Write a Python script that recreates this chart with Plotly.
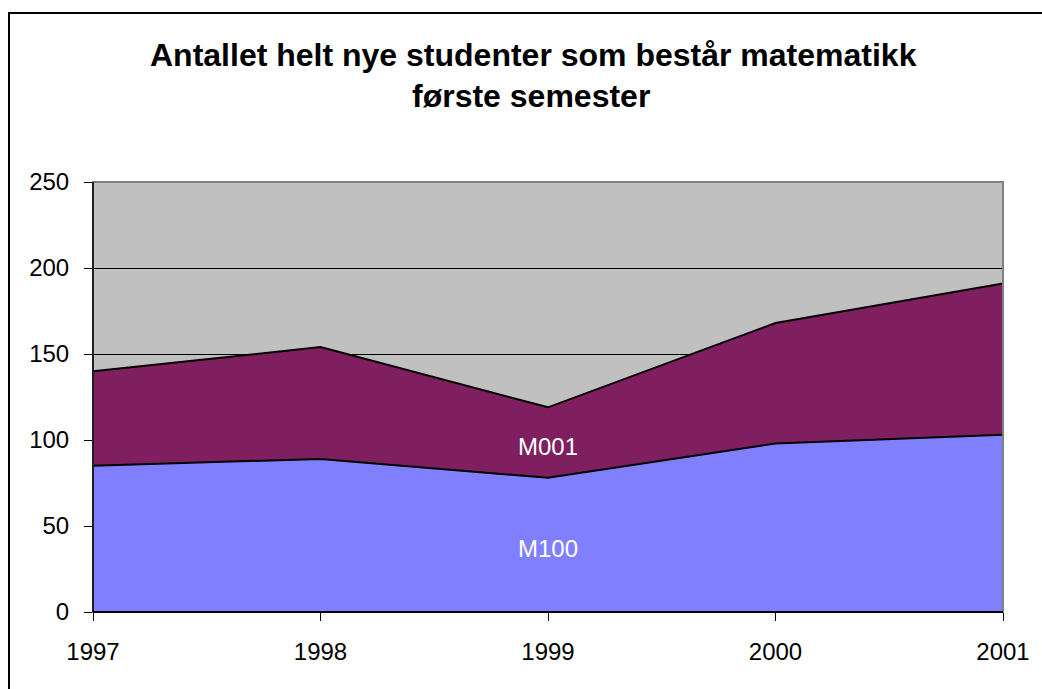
import plotly.graph_objects as go

years = [1997, 1998, 1999, 2000, 2001]
m100 = [85, 89, 78, 98, 103]
m001 = [55, 65, 41, 70, 88]
series_names = ["M100", "M001"]
label_y = [37, 96]
y_ticks = [0, 50, 100, 150, 200, 250]

W, H = 1042, 689
L, T = 93, 182
pw, ph = 910, 430
R, B = W - L - pw, H - T - ph

def px_x(x):  # pixel x -> paper x
    return (x - L) / pw

def px_y(y):  # pixel y -> paper y
    return (T + ph - y) / ph

fig = go.Figure()
fig.add_trace(go.Scatter(x=years, y=m100, name=series_names[0], stackgroup="s",
                         mode="lines", line=dict(color="black", width=2),
                         fillcolor="#8080FF", hoverinfo="x+y"))
fig.add_trace(go.Scatter(x=years, y=m001, name=series_names[1], stackgroup="s",
                         mode="lines", line=dict(color="black", width=2),
                         fillcolor="#7F1F5F", hoverinfo="x+y"))

font = "Liberation Sans, Arial, sans-serif"
ann = [
    dict(x=1999, y=label_y[0], text=series_names[0], showarrow=False,
         font=dict(family=font, size=24, color="white")),
    dict(x=1999, y=label_y[1], text=series_names[1], showarrow=False,
         font=dict(family=font, size=24, color="white")),
    dict(xref="paper", yref="paper", x=px_x(533), y=px_y(55),
         text="<b>Antallet helt nye studenter som består matematikk</b>",
         showarrow=False, font=dict(family=font, size=32, color="black"),
         xanchor="center", yanchor="middle"),
    dict(xref="paper", yref="paper", x=px_x(531), y=px_y(96),
         text="<b>første semester</b>",
         showarrow=False, font=dict(family=font, size=32, color="black"),
         xanchor="center", yanchor="middle"),
]

shapes = [
    # outer chart frame (top and left edges visible)
    dict(type="line", xref="paper", yref="paper",
         x0=px_x(8), x1=px_x(1060), y0=px_y(13), y1=px_y(13),
         line=dict(color="black", width=2), layer="below"),
    dict(type="line", xref="paper", yref="paper",
         x0=px_x(9), x1=px_x(9), y0=px_y(12), y1=px_y(700),
         line=dict(color="black", width=2), layer="below"),
    # plot area border (gray)
    dict(type="rect", xref="paper", yref="paper", x0=0, x1=1, y0=0, y1=1,
         line=dict(color="#808080", width=2), layer="above"),
    # black axes
    dict(type="line", xref="paper", yref="paper", x0=0, x1=0, y0=0, y1=1,
         line=dict(color="black", width=1.5), layer="above"),
    dict(type="line", xref="paper", yref="paper", x0=0, x1=1, y0=0, y1=0,
         line=dict(color="black", width=2), layer="above"),
]

fig.update_layout(
    width=W, height=H,
    margin=dict(l=L, r=R, t=T, b=B),
    paper_bgcolor="white", plot_bgcolor="#C0C0C0",
    showlegend=False,
    annotations=ann, shapes=shapes,
    font=dict(family=font, size=24, color="black"),
    xaxis=dict(range=[1997, 2001], tickmode="array", tickvals=years,
               ticktext=[str(y) for y in years], showgrid=False, zeroline=False,
               ticks="outside", ticklen=8, tickcolor="black", tickwidth=1,
               showline=False, tickfont=dict(family=font, size=24), ticklabelstandoff=10),
    yaxis=dict(range=[0, 250], tickmode="array", tickvals=y_ticks,
               showgrid=True, gridcolor="black", gridwidth=1, zeroline=False,
               ticks="outside", ticklen=8, tickcolor="black", tickwidth=1,
               showline=False, tickfont=dict(family=font, size=24), ticklabelstandoff=10),
)

fig.write_html("out.html", config={"displayModeBar": False},
               post_script="document.body.style.margin='0';document.body.style.overflow='hidden';")
